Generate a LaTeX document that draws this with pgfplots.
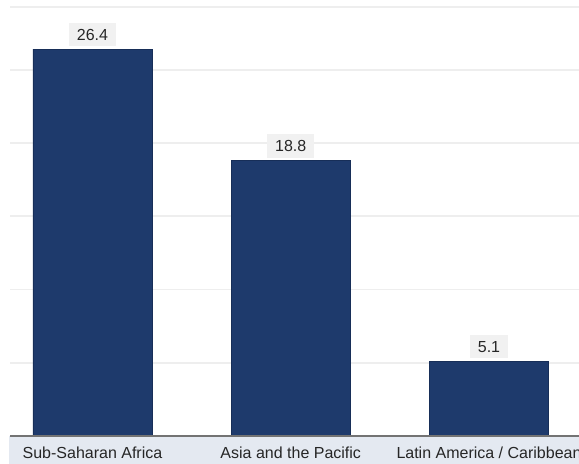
\documentclass[border=0pt]{standalone}
\usepackage{fontspec}
\setmainfont{Liberation Sans}
\usepackage{pgfplots}
\pgfplotsset{compat=1.18}
\definecolor{barblue}{HTML}{1E3A6C}
\definecolor{baredge}{HTML}{172E58}
\definecolor{band}{HTML}{E4E9F1}
\definecolor{gridc}{HTML}{EEEEEE}
\definecolor{lblbg}{HTML}{F1F1F1}
\begin{document}
\begin{tikzpicture}
\fill[band] (7pt,0) rectangle (434.25pt,21pt);
\begin{axis}[
  at={(7.5pt,21pt)}, anchor=south west,
  scale only axis,
  width=426.75pt, height=321.75pt,
  xmin=-0.416, xmax=2.454,
  ymin=0, ymax=29.28,
  ybar, bar width=89.25pt,
  bar shift=0pt,
  /pgf/number format/assume math mode=true,
  xtick={0,1,2},
  xticklabels={Sub-Saharan Africa, Asia and the Pacific, Latin America / Caribbean},
  xticklabel style={font=\fontsize{12}{14}\selectfont, text=black!85, yshift=-5pt},
  major tick length=0pt,
  ytick={5,10,15,20,25},
  yticklabels={},
  extra y ticks={29.28},
  extra y tick labels={},
  extra y tick style={grid style={gridc, line width=1.2pt}},
  ymajorgrids,
  major grid style={gridc, line width=1.2pt},
  axis line style={draw=none},
  clip=false,
  nodes near coords,
  nodes near coords style={font=\fontsize{12}{14}\selectfont, text=black!85, fill=lblbg, inner xsep=6pt, inner ysep=4.5pt, anchor=south, yshift=2pt, /pgf/number format/fixed, /pgf/number format/precision=1, /pgf/number format/fixed zerofill, /pgf/number format/assume math mode=true},
]
\addplot[fill=barblue, draw=baredge] coordinates {(0,26.4) (1,18.8) (2,5.1)};
\draw[black!55, line width=0.8pt] (axis cs:-0.416,0) -- (axis cs:2.454,0);
\end{axis}
\pgfresetboundingbox
\useasboundingbox (0,0) rectangle (434.25pt,348pt);
\end{tikzpicture}
\end{document}
